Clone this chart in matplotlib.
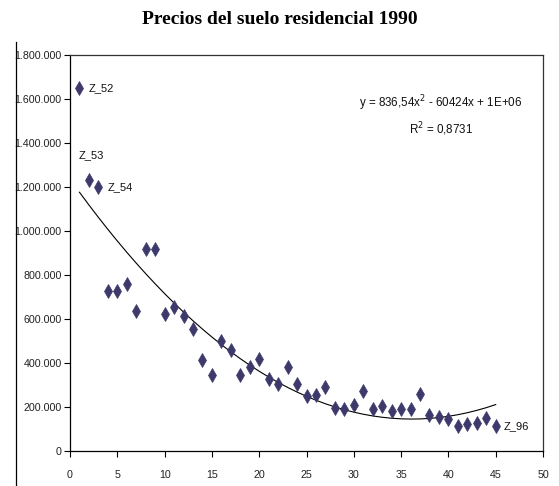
import matplotlib
matplotlib.use("Agg")
import matplotlib.pyplot as plt
from matplotlib.lines import Line2D
from matplotlib.ticker import FuncFormatter
import numpy as np

# ---- data ----
x_vals = list(range(1, 46))
prices = [1650000, 1230000, 1198000, 727000, 727000, 758000, 636000, 917000, 917000, 624000,
          655000, 612000, 553000, 414000, 345000, 500000, 459000, 345000, 382000, 417000,
          326000, 304000, 383000, 304000, 248000, 256000, 292000, 197000, 189000, 211000,
          274000, 189000, 204000, 183000, 189000, 189000, 261000, 165000, 153000, 144000,
          114000, 121000, 126000, 151000, 114000]
point_labels = {1: "Z_52", 2: "Z_53", 3: "Z_54", 45: "Z_96"}
title = "Precios del suelo residencial 1990"
eq_text = "y = 836,54x$^2$ - 60424x + 1E+06\nR$^2$ = 0,8731"
x_ticks = list(range(0, 51, 5))
y_ticks = list(range(0, 1800001, 200000))

plt.rcParams['font.family'] = ['Liberation Sans', 'DejaVu Sans']

fig = plt.figure(figsize=(5.59, 4.86), dpi=100)
ax = fig.add_axes([70/559, 35/486, 473/559, 396/486])

x = np.array(x_vals, dtype=float)
y = np.array(prices, dtype=float)

coef = np.polyfit(x, y, 2)
ax.plot(x, np.polyval(coef, x), color='black', lw=0.8, zorder=2)

ax.plot(x, y, linestyle='none', marker='d', markersize=7, color='#3D3A6B',
        markeredgecolor='#3D3A6B', markeredgewidth=0.5, zorder=3)

offsets = {1: (9, 0, 'left', 'center'), 2: (2, 25, 'center', 'center'),
           3: (9, 0, 'left', 'center'), 45: (8, 0, 'left', 'center')}
for xi, lab in point_labels.items():
    dx, dy, ha, va = offsets[xi]
    ax.annotate(lab, (xi, prices[xi-1]), xytext=(dx, dy), textcoords='offset pixels',
                ha=ha, va=va, fontsize=8, color='#111111')

ax.text(0.784, 0.847, eq_text, transform=ax.transAxes, ha='center', va='center',
        multialignment='center', fontsize=8.4, color='#111111', linespacing=1.55)

ax.set_xlim(0, 50)
ax.set_ylim(0, 1800000)
ax.set_xticks(x_ticks)
ax.set_yticks(y_ticks)
ax.yaxis.set_major_formatter(FuncFormatter(lambda v, p: f"{int(v):,}".replace(",", ".")))
ax.tick_params(axis='both', direction='out', length=4, width=0.8, labelsize=7.7,
               colors='black', labelcolor='#222222')
ax.tick_params(axis='x', pad=10)
ax.tick_params(axis='y', pad=2)
for s in ['left', 'bottom']:
    ax.spines[s].set_linewidth(0.9)
    ax.spines[s].set_color('black')
for s in ['top', 'right']:
    ax.spines[s].set_linewidth(0.9)
    ax.spines[s].set_color('#333333')

fig.text(280/559, 1 - 20/486, title, ha='center', va='center', fontsize=14,
         fontweight='bold', family=['Liberation Serif', 'DejaVu Serif'])

fig.add_artist(Line2D([16/559, 16/559], [0, 1 - 42/486], transform=fig.transFigure,
                      color='black', lw=0.9))

fig.savefig("out.png", dpi=100)
